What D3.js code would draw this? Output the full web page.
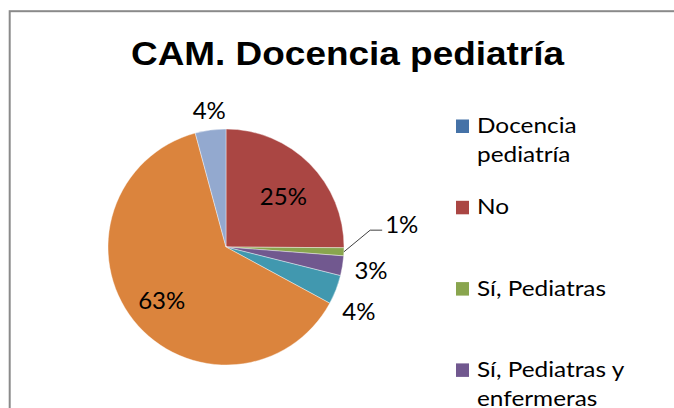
<!DOCTYPE html>
<html>
<head>
<meta charset="utf-8">
<script src="https://cdn.jsdelivr.net/npm/d3@7"></script>
<style>
  html, body { margin: 0; padding: 0; background: #fff; }
  svg { display: block; }
</style>
</head>
<body>
<svg id="chart" width="674" height="408"></svg>
<script>
// ---- data ----
const title = "CAM. Docencia pediatría";
const categories = [
  "Docencia pediatría",
  "No",
  "Sí, Pediatras",
  "Sí, Pediatras y enfermeras",
  "Sí, Pediatras, enfermeras y otros",
  "No consta",
  "Otros"
];
const values = [0, 25.1, 1.1, 2.7, 4.0, 62.9, 4.2];
const colors = ["#4572A7", "#AA4643", "#89A54E", "#71588F", "#4198AF", "#DB843D", "#93A9CF"];

// ---- label layout (radius factor, angle nudge in degrees, leader) ----
const labelLayout = [
  null,
  { k: 0.65, da: 3.2 },
  { leader: true, k: 1.23, da: -9 },
  { k: 1.245, da: 0 },
  { k: 1.25, da: 4.5 },
  { k: 0.71, da: -1.5 },
  { k: 1.17, da: 0.6 }
];

const W = 674, H = 408;
const svg = d3.select("#chart");
svg.append("rect").attr("width", W).attr("height", H).attr("fill", "#fff");

// chart frame (continues beyond the visible area)
svg.append("rect")
  .attr("x", 9.7).attr("y", 11.2)
  .attr("width", 800).attr("height", 600)
  .attr("fill", "none").attr("stroke", "#8a8a8a").attr("stroke-width", 2);

// title
svg.append("text")
  .attr("x", 131).attr("y", 65)
  .attr("textLength", 433).attr("lengthAdjust", "spacingAndGlyphs")
  .attr("font-family", "'Liberation Sans', Arial, sans-serif")
  .attr("font-weight", "bold").attr("font-size", 34)
  .attr("fill", "#000")
  .text(title);

// pie
const cx = 226, cy = 247, r = 118;
const data = categories.map((c, i) => ({ cat: c, value: values[i], color: colors[i], idx: i }));
const pie = d3.pie().value(d => d.value).sort(null).startAngle(0).endAngle(2 * Math.PI);
const arcs = pie(data);
const arc = d3.arc().innerRadius(0).outerRadius(r);

const g = svg.append("g").attr("transform", `translate(${cx},${cy})`);
g.selectAll("path.slice")
  .data(arcs.filter(a => a.data.value > 0))
  .join("path")
  .attr("class", "slice")
  .attr("d", arc)
  .attr("fill", d => d.data.color)
  .attr("stroke", "#fff").attr("stroke-width", 0.4);

const fmt = v => Math.round(v) + "%";
const polar = (rad, ang) => [rad * Math.sin(ang), -rad * Math.cos(ang)];
const labelFont = "Lato, 'Open Sans', sans-serif";

arcs.forEach(a => {
  const L = labelLayout[a.data.idx];
  if (!L || a.data.value <= 0) return;
  const mid = (a.startAngle + a.endAngle) / 2;
  if (L.leader) {
    const p0 = polar(r, mid);
    const p1 = polar(r * L.k, mid + L.da * Math.PI / 180);
    const p2 = [p1[0] + 12, p1[1]];
    g.append("polyline")
      .attr("points", [p0, p1, p2].map(p => p.join(",")).join(" "))
      .attr("fill", "none").attr("stroke", "#404040").attr("stroke-width", 1);
    g.append("text")
      .attr("x", p2[0] + 3).attr("y", p2[1] + 2.5)
      .attr("font-family", labelFont).attr("font-size", 24)
      .attr("fill", "#000")
      .text(fmt(a.data.value));
  } else {
    const p = polar(r * L.k, mid + L.da * Math.PI / 180);
    g.append("text")
      .attr("x", p[0]).attr("y", p[1])
      .attr("text-anchor", "middle").attr("dy", "0.36em")
      .attr("font-family", labelFont).attr("font-size", 24)
      .attr("fill", "#000")
      .text(fmt(a.data.value));
  }
});

// legend
const legX = 456, legTextX = 477, legY0 = 133, legStep = 81.3, lineH = 29, maxW = 150, stretch = 1.16;
const leg = svg.append("g");
data.forEach((d, i) => {
  const baseY = legY0 + i * legStep;
  if (baseY - 16 > H) return;
  leg.append("rect")
    .attr("x", legX).attr("y", baseY - 13.5)
    .attr("width", 13).attr("height", 13.5)
    .attr("fill", d.color);
  const t = leg.append("g")
    .attr("transform", `translate(${legTextX},${baseY}) scale(${stretch},1)`)
    .append("text")
    .attr("x", 0).attr("y", 0)
    .attr("font-family", labelFont).attr("font-size", 21)
    .attr("fill", "#000");
  // word wrap
  const words = d.cat.split(" ");
  let line = [], ts = t.append("tspan").attr("x", 0).attr("y", 0), ln = 0;
  words.forEach(w => {
    line.push(w);
    ts.text(line.join(" "));
    if (ts.node().getComputedTextLength() > maxW && line.length > 1) {
      line.pop();
      ts.text(line.join(" "));
      line = [w];
      ln++;
      ts = t.append("tspan").attr("x", 0).attr("y", ln * lineH).text(w);
    }
  });
});
</script>
</body>
</html>
